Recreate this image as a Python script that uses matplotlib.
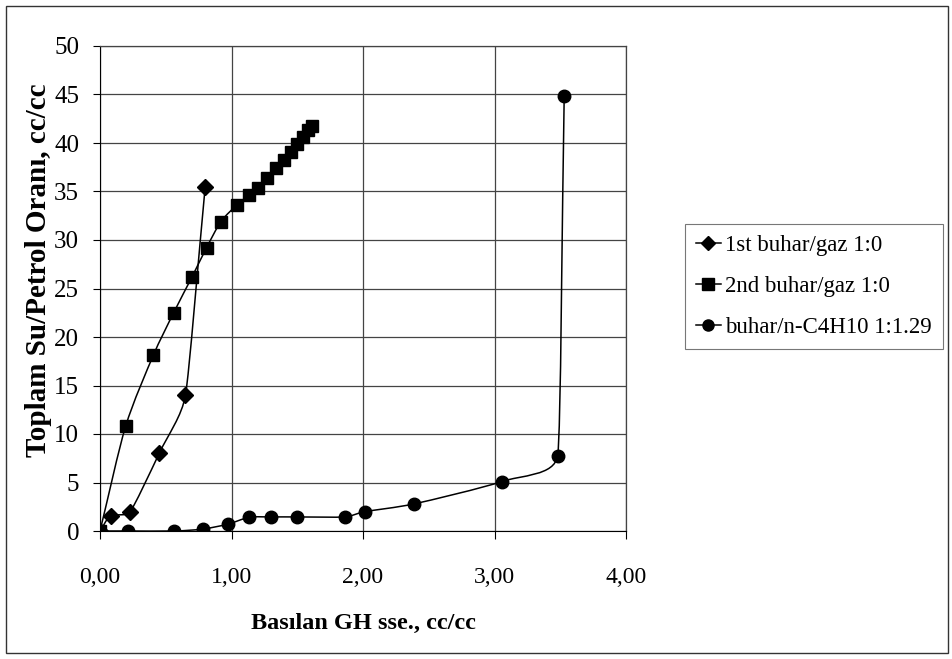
import numpy as np
import matplotlib
matplotlib.use("Agg")
import matplotlib.pyplot as plt
from matplotlib.path import Path
from matplotlib.patches import PathPatch, Rectangle
from matplotlib.ticker import FuncFormatter

plt.rcParams['font.family'] = ['Liberation Serif', 'DejaVu Serif']

# 1st buhar/gaz 1:0
x1 = [0.0, 0.08, 0.23, 0.45, 0.65, 0.80]
y1 = [0.0, 1.5, 2.0, 8.0, 14.0, 35.5]

# 2nd buhar/gaz 1:0
x2 = [0.0, 0.195, 0.405, 0.56, 0.70, 0.81, 0.92, 1.04, 1.13, 1.20, 1.27,
      1.335, 1.40, 1.455, 1.50, 1.545, 1.585, 1.61]
y2 = [0.0, 10.8, 18.1, 22.5, 26.2, 29.2, 31.9, 33.6, 34.6, 35.4, 36.4,
      37.4, 38.2, 39.1, 39.9, 40.6, 41.3, 41.8]

# buhar/n-C4H10 1:1.29
x3 = [0.0, 0.21, 0.565, 0.78, 0.97, 1.135, 1.30, 1.495, 1.86, 2.015,
      2.39, 3.055, 3.48, 3.53]
y3 = [0.0, 0.0, 0.0, 0.2, 0.7, 1.4, 1.45, 1.45, 1.45, 2.0,
      2.8, 5.1, 7.75, 44.8]

labels = ['1st buhar/gaz 1:0', '2nd buhar/gaz 1:0', 'buhar/n-C4H10 1:1.29']

# pixels per data unit, so the smoothing behaves like on screen
SX, SY = 131.5, 9.68


def smooth_path(x, y):
    # smoothed line: Catmull-Rom tangents, control length limited by the shorter neighbour segment
    pts = np.column_stack([np.array(x) * SX, np.array(y) * SY])
    n = len(pts)
    verts = [pts[0]]
    codes = [Path.MOVETO]
    for i in range(n - 1):
        p0 = pts[i - 1] if i > 0 else pts[i]
        p1 = pts[i]
        p2 = pts[i + 1]
        p3 = pts[i + 2] if i + 2 < n else pts[i + 1]
        d01 = np.hypot(*(p1 - p0))
        d12 = np.hypot(*(p2 - p1))
        d23 = np.hypot(*(p3 - p2))
        t1 = p2 - p0
        t2 = p3 - p1
        l1 = (min(d01, d12) if d01 > 0 else d12) / 3.0
        l2 = (min(d12, d23) if d23 > 0 else d12) / 3.0
        c1 = p1 + t1 / np.hypot(*t1) * l1
        c2 = p2 - t2 / np.hypot(*t2) * l2
        verts += [c1, c2, p2]
        codes += [Path.CURVE4] * 3
    verts = np.array(verts) / [SX, SY]
    return Path(verts, codes)


fig = plt.figure(figsize=(9.53, 6.59), dpi=100)
ax = fig.add_axes([100 / 953, 1 - 531 / 659, 526 / 953, 485 / 659])

series = [(x1, y1, 'D', 8), (x2, y2, 's', 9), (x3, y3, 'o', 9)]
handles = []
for (xs, ys, m, ms), lab in zip(series, labels):
    ax.add_patch(PathPatch(smooth_path(xs, ys), fill=False, edgecolor='black',
                           lw=1.1, zorder=3))
    ax.plot(xs, ys, linestyle='none', marker=m, ms=ms, color='black', zorder=4)
    h, = ax.plot([], [], color='black', lw=1.1, marker=m, ms=ms - 1, label=lab)
    handles.append(h)

ax.set_xlim(0, 4)
ax.set_ylim(0, 50)
ax.set_xticks(np.arange(0, 4.01, 1))
ax.set_yticks(np.arange(0, 51, 5))
ax.xaxis.set_major_formatter(FuncFormatter(lambda v, p: ('%.2f' % v).replace('.', ',')))
ax.grid(True, color='#444444', lw=0.9)
ax.set_axisbelow(True)
ax.tick_params(axis='y', labelsize=18, length=5, pad=10, color='black', direction='out')
ax.tick_params(axis='x', labelsize=17, length=6, pad=20, color='black', direction='out')
for s in ['top', 'right']:
    ax.spines[s].set_color('#444444')
    ax.spines[s].set_linewidth(0.9)

ax.set_xlabel('Basılan GH sse., cc/cc', fontsize=17.5, fontweight='bold', labelpad=18)
ax.set_ylabel('Toplam Su/Petrol Oranı, cc/cc', fontsize=21, fontweight='bold')
ax.yaxis.set_label_coords(-0.091, 0.537)

leg = fig.legend(handles=handles, loc='upper left', bbox_to_anchor=(685 / 953, 1 - 224 / 659),
                 fontsize=16.5, frameon=True, fancybox=False, handlelength=1.05,
                 handletextpad=0.2, labelspacing=0.85, borderpad=0.5, borderaxespad=0)
leg.get_frame().set_edgecolor('#555555')
leg.get_frame().set_linewidth(0.8)

fig.add_artist(Rectangle((6 / 953, 6 / 659), 942 / 953, 647 / 659, transform=fig.transFigure,
                         fill=False, edgecolor='#333333', lw=1.0))

fig.savefig('out.png', dpi=100)
